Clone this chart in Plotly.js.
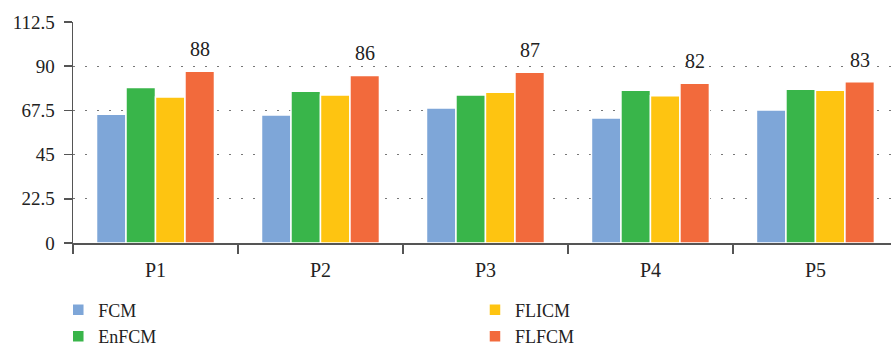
<!DOCTYPE html>
<html>
<head>
<meta charset="utf-8">
<script src="https://cdn.plot.ly/plotly-3.0.1.min.js"></script>
<style>html,body{margin:0;padding:0;background:#fff;}#chart{width:891px;height:347px;}</style>
</head>
<body>
<div id="chart"></div>
<script>
// ---- data ----
const categories = ["P1", "P2", "P3", "P4", "P5"];
const seriesNames = ["FCM", "EnFCM", "FLICM", "FLFCM"];
const fcm   = [65.5, 65.1, 68.7, 63.6, 67.7];
const enfcm = [79.2, 77.3, 75.4, 77.8, 78.3];
const flicm = [74.3, 75.3, 76.8, 74.9, 77.7];
const flfcm = [87.4, 85.3, 86.9, 81.3, 82.1];
const flfcmLabels = ["88", "86", "87", "82", "83"];
const yTicks = [0, 22.5, 45, 67.5, 90, 112.5];

// ---- styles ----
const colors = ["#7EA6D8", "#39B54A", "#FEC411", "#F26A3C"];
const legendIds = ["legend", "legend", "legend2", "legend2"];
const FONT = "Liberation Serif";
const TXT = "#222";
const bargap = 0.285;

const seriesValues = [fcm, enfcm, flicm, flfcm];
const traces = seriesValues.map((vals, k) => ({
  type: "bar",
  name: seriesNames[k],
  x: categories,
  y: vals,
  marker: {color: colors[k], line: {color: "#ffffff", width: 1.5}},
  legend: legendIds[k],
  hoverinfo: "skip"
}));

const slot = (1 - bargap) / seriesNames.length;
const orangeOffset = slot * 1.5;
const annotations = flfcm.map((v, i) => ({
  x: i + orangeOffset, y: v, xref: "x", yref: "y",
  text: flfcmLabels[i], showarrow: false, yshift: 22,
  font: {family: FONT, size: 20, color: TXT}
}));

const legendBase = {
  orientation: "v", xref: "container", yref: "container",
  xanchor: "left", yanchor: "top", traceorder: "normal",
  font: {family: FONT, size: 18, color: TXT}, bgcolor: "rgba(0,0,0,0)"
};

const layout = {
  width: 891, height: 347,
  margin: {l: 73, r: 0, t: 22, b: 103.5, pad: 0, autoexpand: false},
  paper_bgcolor: "#ffffff", plot_bgcolor: "rgba(0,0,0,0)",
  barmode: "group", bargap: bargap, bargroupgap: 0,
  font: {family: FONT, color: TXT},
  xaxis: {
    type: "category", range: [-0.5, 4.458],
    showline: true, linecolor: "#555", linewidth: 1.5,
    ticks: "outside", tickson: "boundaries", ticklen: 9, tickwidth: 1.5, tickcolor: "#555",
    showgrid: false, zeroline: false, automargin: false,
    tickfont: {family: FONT, size: 20, color: TXT}, ticklabelstandoff: 8
  },
  yaxis: {
    range: [0, 112.5], tickmode: "array", tickvals: yTicks, ticktext: yTicks.map(String),
    showline: true, linecolor: "#555", linewidth: 1.5,
    ticks: "outside", ticklen: 8, tickwidth: 1.5, tickcolor: "#555",
    showgrid: true, gridcolor: "#777", gridwidth: 1, griddash: "2px,10px",
    zeroline: false, automargin: false,
    tickfont: {family: FONT, size: 19, color: TXT}, ticklabelstandoff: 5
  },
  legend: Object.assign({}, legendBase, {x: 0.0654, y: 0.1597}),
  legend2: Object.assign({}, legendBase, {x: 0.5331, y: 0.1597}),
  annotations: annotations,
  showlegend: true
};

Plotly.newPlot("chart", traces, layout, {displayModeBar: false, staticPlot: true});
</script>
</body>
</html>
